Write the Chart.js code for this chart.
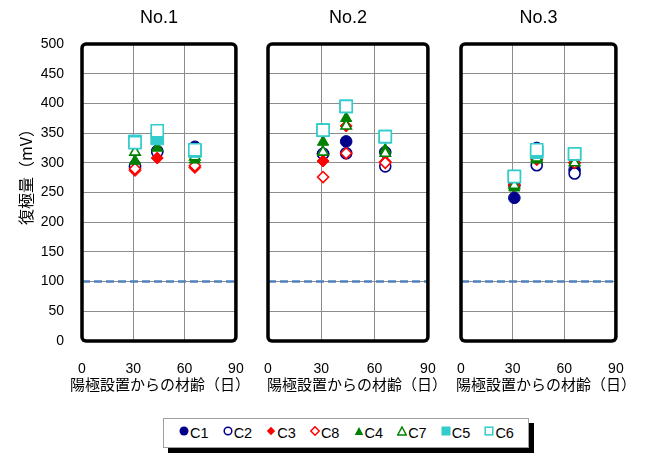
<!DOCTYPE html>
<html><head><meta charset="utf-8">
<script src="https://cdn.jsdelivr.net/npm/chart.js@4/dist/chart.umd.min.js"></script>
<style>
html,body{margin:0;padding:0;background:#fff}
body{width:646px;height:462px;overflow:hidden;position:relative;font-family:"Liberation Sans","Noto Sans CJK JP",sans-serif}
canvas.pc{position:absolute;top:0}
.ptitle{position:absolute;top:6px;width:100px;text-align:center;font:18px/22px "Liberation Sans",sans-serif;color:#000}
.xtitle{position:absolute;top:375px;width:220px;text-align:center;font:15px/18px "Noto Sans CJK JP",sans-serif;color:#000;white-space:nowrap}
#ytitle{position:absolute;left:-35px;top:164px;width:120px;text-align:center;font:16px/18px "Noto Sans CJK JP",sans-serif;color:#000;transform:rotate(-90deg);white-space:nowrap}
#legend{position:absolute;left:163px;top:418px;width:366px;height:30px;border:1px solid #a0a0a0;background:#fff;box-shadow:5px 5px 0 #000;display:flex;align-items:center;box-sizing:border-box;padding-left:15px}
#legend .li{width:44.3px;display:flex;align-items:center;font-size:14.5px;color:#000;white-space:nowrap}
#legend .li svg{margin-right:1px;position:relative;top:-2px}
</style>
</head><body>
<canvas id="p0" class="pc" width="246" height="400" style="left:0px"></canvas>
<canvas id="p1" class="pc" width="189" height="400" style="left:249px"></canvas>
<canvas id="p2" class="pc" width="184" height="400" style="left:442px"></canvas>
<div id="ytitle"></div>
<div id="legend"></div>
<script>
// ---- data ----
const panelTitles = ['No.1', 'No.2', 'No.3'];
const days = [31, 44, 66];                 // 材齢(日)
const xTicks = [0, 30, 60, 90];
const yTicks = [0, 50, 100, 150, 200, 250, 300, 350, 400, 450, 500];
const threshold = 100;                     // 基準線 (mV)
const seriesNames = ['C1', 'C2', 'C3', 'C8', 'C4', 'C7', 'C5', 'C6'];
// each array: [No.1 values, No.2 values, No.3 values] at days
const C1 = [[293, 320, 327], [315, 336, 318], [241, 325, 288]];
const C2 = [[295, 318, 322], [315, 316, 294], [262, 296, 282]];
const C3 = [[287, 308, 292], [303, 362, 302], [262, 305, 300]];
const C8 = [[290, 352, 295], [276, 316, 300], [262, 307, 300]];
const C4 = [[303, 325, 305], [335, 375, 322], [258, 305, 301]];
const C7 = [[318, 352, 310], [318, 362, 316], [262, 308, 300]];
const C5 = [[336, 341, 320], [355, 395, 344], [277, 318, 315]];
const C6 = [[334, 354, 322], [355, 395, 344], [277, 322, 315]];
const seriesData = [C1, C2, C3, C8, C4, C7, C5, C6];
const xTitle = '陽極設置からの材齢（日）';
const yTitle = '復極量（mV）';

// ---- styles / layout ----
const seriesColors = ['#00008b', '#00008b', '#ff0000', '#ff0000', '#008000', '#008000', '#33cccc', '#33cccc'];
const seriesShapes = ['circle', 'circle', 'rectRot', 'rectRot', 'triangle', 'triangle', 'rect', 'rect'];
const seriesFilled = [true, false, true, false, true, false, true, false];
const seriesRadius = [5.8, 5.5, 6, 5.5, 6.5, 6, 9, 8.5];
const xTitleCenters = [160, 357, 546];

const numFont = '"Liberation Sans", "Noto Sans CJK JP", sans-serif';

const framePlugin = {
  id: 'frame',
  afterDatasetsDraw(chart) {
    const { ctx, chartArea: a } = chart;
    ctx.save();
    ctx.strokeStyle = '#000';
    ctx.lineWidth = 3.5;
    ctx.beginPath();
    if (ctx.roundRect) ctx.roundRect(a.left, a.top, a.right - a.left, a.bottom - a.top, 4);
    else ctx.rect(a.left, a.top, a.right - a.left, a.bottom - a.top);
    ctx.stroke();
    ctx.restore();
  }
};

function makePanel(i) {
  const first = i === 0;
  const datasets = seriesNames.map((name, k) => ({
    label: name,
    data: days.map((d, j) => ({ x: d, y: seriesData[k][i][j] })),
    pointStyle: seriesShapes[k],
    pointRadius: seriesRadius[k],
    pointHoverRadius: seriesRadius[k],
    backgroundColor: seriesFilled[k] ? seriesColors[k] : '#ffffff',
    borderColor: seriesColors[k],
    borderWidth: seriesFilled[k] ? 1 : 1.6,
    showLine: false,
    order: 20 - k
  }));
  datasets.push({
    label: 'threshold',
    data: [{ x: xTicks[0], y: threshold }, { x: xTicks[xTicks.length - 1], y: threshold }],
    showLine: true,
    borderColor: '#4f81bd',
    borderWidth: 2.5,
    borderDash: [8, 4],
    pointRadius: 0,
    order: 100
  });
  const chart = new Chart(document.getElementById('p' + i), {
    type: 'scatter',
    data: { datasets },
    plugins: [framePlugin],
    options: {
      responsive: false,
      animation: false,
      events: [],
      layout: { padding: { left: first ? 0 : 19, right: 10, top: 44, bottom: 0 } },
      plugins: { legend: { display: false }, tooltip: { enabled: false }, title: { display: false } },
      scales: {
        x: {
          type: 'linear',
          min: xTicks[0], max: xTicks[xTicks.length - 1],
          afterBuildTicks: s => { s.ticks = xTicks.map(v => ({ value: v })); },
          border: { display: false },
          grid: { color: '#8c8c8c', lineWidth: 1, drawTicks: true, tickLength: 20, tickColor: 'rgba(0,0,0,0)' },
          ticks: { color: '#000', font: { family: numFont, size: 14 }, padding: 0, maxRotation: 0, autoSkip: false },
          afterFit: s => { s.height = 59; }
        },
        y: {
          type: 'linear',
          min: yTicks[0], max: yTicks[yTicks.length - 1],
          afterBuildTicks: s => { s.ticks = yTicks.map(v => ({ value: v })); },
          border: { display: false },
          grid: { color: '#8c8c8c', lineWidth: 1, drawTicks: first, tickLength: 18, tickColor: 'rgba(0,0,0,0)' },
          ticks: { display: first, color: '#000', font: { family: numFont, size: 14 }, padding: 0 },
          afterFit: s => { s.width = first ? 82 : 0; }
        }
      }
    }
  });
  // panel title (centered over plot area) and x-axis title
  const a = chart.chartArea;
  const left = parseFloat(chart.canvas.style.left);
  const t = document.createElement('div');
  t.className = 'ptitle';
  t.textContent = panelTitles[i];
  t.style.left = (left + (a.left + a.right) / 2 - 50) + 'px';
  document.body.appendChild(t);
  const xt = document.createElement('div');
  xt.className = 'xtitle';
  xt.textContent = xTitle;
  xt.style.left = (xTitleCenters[i] - 110) + 'px';
  document.body.appendChild(xt);
}
[0, 1, 2].forEach(makePanel);
document.getElementById('ytitle').textContent = yTitle;

// ---- HTML legend ----
function markerSvg(k) {
  const c = seriesColors[k], f = seriesFilled[k] ? c : '#fff', sw = seriesFilled[k] ? 0 : 1.5;
  let shape = '';
  switch (seriesShapes[k]) {
    case 'circle': shape = `<circle cx="5" cy="5" r="${seriesFilled[k] ? 4.5 : 3.8}" fill="${f}" stroke="${c}" stroke-width="${sw}"/>`; break;
    case 'rectRot': shape = `<polygon points="5,0.8 9.2,5 5,9.2 0.8,5" fill="${f}" stroke="${c}" stroke-width="${sw}"/>`; break;
    case 'triangle': shape = `<polygon points="5,1 9.3,9 0.7,9" fill="${f}" stroke="${c}" stroke-width="${sw}"/>`; break;
    case 'rect': shape = `<rect x="${seriesFilled[k] ? 0.5 : 1.2}" y="${seriesFilled[k] ? 0.5 : 1.2}" width="${seriesFilled[k] ? 9 : 7.6}" height="${seriesFilled[k] ? 9 : 7.6}" fill="${f}" stroke="${c}" stroke-width="${sw}"/>`; break;
  }
  return `<svg width="10" height="10" viewBox="0 0 10 10">${shape}</svg>`;
}
const legendEl = document.getElementById('legend');
seriesNames.forEach((n, k) => {
  const it = document.createElement('div');
  it.className = 'li';
  it.innerHTML = markerSvg(k) + '<span>' + n + '</span>';
  legendEl.appendChild(it);
});
</script>
</body></html>
